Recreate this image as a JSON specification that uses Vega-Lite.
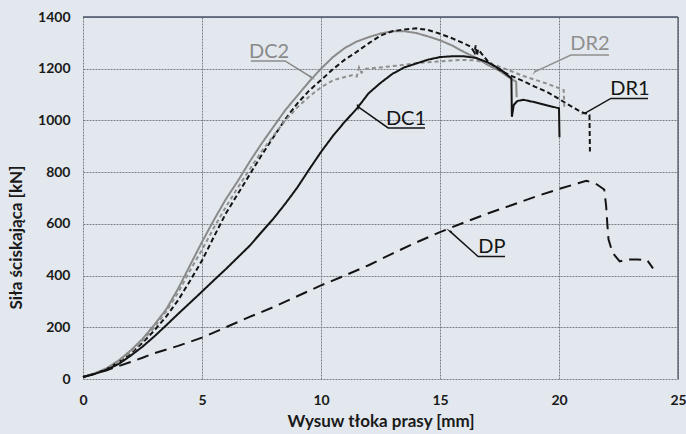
{
  "$schema": "https://vega.github.io/schema/vega-lite/v6.json",
  "width": 595,
  "height": 362,
  "autosize": {"type": "none"},
  "padding": {"left": 83, "top": 17, "right": 8, "bottom": 55},
  "background": "#e3e8ee",
  "config": {
    "view": {"stroke": null},
    "axis": {
      "labelFont": "Lato", "labelFontWeight": "bold", "labelFontSize": 14, "labelColor": "#1a1a1a",
      "titleFont": "Lato", "titleFontWeight": "bold", "titleFontSize": 17, "titleColor": "#1a1a1a",
      "domain": false, "ticks": false, "grid": true, "gridColor": "#7a7f87", "gridOpacity": 1, "gridDash": [2, 1], "gridWidth": 1,
      "labelFlush": false
    }
  },
  "datasets": {
    "curves": [
      {"s":"DC2","x":0,"y":8},{"s":"DC2","x":0.5,"y":22},{"s":"DC2","x":1,"y":42},{"s":"DC2","x":1.5,"y":72},{"s":"DC2","x":2,"y":110},{"s":"DC2","x":2.5,"y":155},{"s":"DC2","x":3,"y":210},{"s":"DC2","x":3.5,"y":270},{"s":"DC2","x":4,"y":350},{"s":"DC2","x":4.5,"y":440},{"s":"DC2","x":5,"y":530},{"s":"DC2","x":5.5,"y":615},{"s":"DC2","x":6,"y":695},{"s":"DC2","x":6.5,"y":765},{"s":"DC2","x":7,"y":840},{"s":"DC2","x":7.5,"y":910},{"s":"DC2","x":8,"y":975},{"s":"DC2","x":8.5,"y":1040},{"s":"DC2","x":9,"y":1095},{"s":"DC2","x":9.5,"y":1150},{"s":"DC2","x":10,"y":1200},{"s":"DC2","x":10.5,"y":1245},{"s":"DC2","x":11,"y":1280},{"s":"DC2","x":11.5,"y":1305},{"s":"DC2","x":12,"y":1322},{"s":"DC2","x":12.5,"y":1336},{"s":"DC2","x":13,"y":1345},{"s":"DC2","x":13.5,"y":1345},{"s":"DC2","x":14,"y":1338},{"s":"DC2","x":14.5,"y":1325},{"s":"DC2","x":15,"y":1310},{"s":"DC2","x":15.5,"y":1290},{"s":"DC2","x":16,"y":1265},{"s":"DC2","x":16.5,"y":1243},{"s":"DC2","x":17,"y":1215},{"s":"DC2","x":17.5,"y":1192},{"s":"DC2","x":18,"y":1160},{"s":"DC2","x":18.2,"y":1150},{"s":"DC2","x":18.22,"y":1090},
      {"s":"DR1","x":0,"y":8},{"s":"DR1","x":0.5,"y":20},{"s":"DR1","x":1,"y":38},{"s":"DR1","x":1.5,"y":65},{"s":"DR1","x":2,"y":98},{"s":"DR1","x":2.5,"y":140},{"s":"DR1","x":3,"y":188},{"s":"DR1","x":3.5,"y":242},{"s":"DR1","x":4,"y":305},{"s":"DR1","x":4.5,"y":380},{"s":"DR1","x":5,"y":458},{"s":"DR1","x":5.5,"y":550},{"s":"DR1","x":6,"y":640},{"s":"DR1","x":6.5,"y":715},{"s":"DR1","x":7,"y":790},{"s":"DR1","x":7.5,"y":865},{"s":"DR1","x":8,"y":935},{"s":"DR1","x":8.5,"y":1005},{"s":"DR1","x":9,"y":1065},{"s":"DR1","x":9.5,"y":1115},{"s":"DR1","x":10,"y":1156},{"s":"DR1","x":10.5,"y":1198},{"s":"DR1","x":11,"y":1235},{"s":"DR1","x":11.5,"y":1265},{"s":"DR1","x":12,"y":1298},{"s":"DR1","x":12.5,"y":1328},{"s":"DR1","x":13,"y":1345},{"s":"DR1","x":13.5,"y":1352},{"s":"DR1","x":14,"y":1356},{"s":"DR1","x":14.5,"y":1350},{"s":"DR1","x":15,"y":1335},{"s":"DR1","x":15.5,"y":1318},{"s":"DR1","x":16,"y":1298},{"s":"DR1","x":16.3,"y":1285},{"s":"DR1","x":16.45,"y":1262},{"s":"DR1","x":16.5,"y":1290},{"s":"DR1","x":16.55,"y":1250},{"s":"DR1","x":16.6,"y":1275},{"s":"DR1","x":17,"y":1230},{"s":"DR1","x":17.5,"y":1195},{"s":"DR1","x":18,"y":1172},{"s":"DR1","x":18.5,"y":1152},{"s":"DR1","x":19,"y":1130},{"s":"DR1","x":19.5,"y":1110},{"s":"DR1","x":20,"y":1083},{"s":"DR1","x":20.5,"y":1055},{"s":"DR1","x":20.9,"y":1034},{"s":"DR1","x":21.28,"y":1021},{"s":"DR1","x":21.3,"y":880},
      {"s":"DR2","x":0,"y":8},{"s":"DR2","x":0.5,"y":21},{"s":"DR2","x":1,"y":40},{"s":"DR2","x":1.5,"y":68},{"s":"DR2","x":2,"y":104},{"s":"DR2","x":2.5,"y":148},{"s":"DR2","x":3,"y":200},{"s":"DR2","x":3.5,"y":262},{"s":"DR2","x":4,"y":335},{"s":"DR2","x":4.5,"y":420},{"s":"DR2","x":5,"y":500},{"s":"DR2","x":5.5,"y":585},{"s":"DR2","x":6,"y":665},{"s":"DR2","x":6.5,"y":740},{"s":"DR2","x":7,"y":810},{"s":"DR2","x":7.5,"y":880},{"s":"DR2","x":8,"y":940},{"s":"DR2","x":8.5,"y":1000},{"s":"DR2","x":9,"y":1050},{"s":"DR2","x":9.5,"y":1092},{"s":"DR2","x":10,"y":1128},{"s":"DR2","x":10.5,"y":1155},{"s":"DR2","x":11,"y":1168},{"s":"DR2","x":11.3,"y":1175},{"s":"DR2","x":11.5,"y":1170},{"s":"DR2","x":11.6,"y":1205},{"s":"DR2","x":11.7,"y":1185},{"s":"DR2","x":11.9,"y":1200},{"s":"DR2","x":12.5,"y":1205},{"s":"DR2","x":13,"y":1210},{"s":"DR2","x":13.5,"y":1215},{"s":"DR2","x":14,"y":1222},{"s":"DR2","x":14.5,"y":1225},{"s":"DR2","x":15,"y":1228},{"s":"DR2","x":15.5,"y":1232},{"s":"DR2","x":16,"y":1234},{"s":"DR2","x":16.5,"y":1232},{"s":"DR2","x":17,"y":1222},{"s":"DR2","x":17.5,"y":1208},{"s":"DR2","x":18,"y":1190},{"s":"DR2","x":18.5,"y":1172},{"s":"DR2","x":19,"y":1157},{"s":"DR2","x":19.5,"y":1142},{"s":"DR2","x":20,"y":1125},{"s":"DR2","x":20.2,"y":1117},{"s":"DR2","x":20.22,"y":1050},
      {"s":"DC1","x":0,"y":8},{"s":"DC1","x":0.5,"y":20},{"s":"DC1","x":1,"y":36},{"s":"DC1","x":1.5,"y":58},{"s":"DC1","x":2,"y":90},{"s":"DC1","x":2.5,"y":125},{"s":"DC1","x":3,"y":165},{"s":"DC1","x":3.5,"y":208},{"s":"DC1","x":4,"y":252},{"s":"DC1","x":4.5,"y":295},{"s":"DC1","x":5,"y":338},{"s":"DC1","x":5.5,"y":382},{"s":"DC1","x":6,"y":425},{"s":"DC1","x":6.5,"y":470},{"s":"DC1","x":7,"y":515},{"s":"DC1","x":7.5,"y":568},{"s":"DC1","x":8,"y":620},{"s":"DC1","x":8.5,"y":678},{"s":"DC1","x":9,"y":740},{"s":"DC1","x":9.5,"y":810},{"s":"DC1","x":10,"y":878},{"s":"DC1","x":10.5,"y":940},{"s":"DC1","x":11,"y":995},{"s":"DC1","x":11.5,"y":1045},{"s":"DC1","x":12,"y":1105},{"s":"DC1","x":12.5,"y":1145},{"s":"DC1","x":13,"y":1180},{"s":"DC1","x":13.5,"y":1205},{"s":"DC1","x":14,"y":1220},{"s":"DC1","x":14.5,"y":1235},{"s":"DC1","x":15,"y":1245},{"s":"DC1","x":15.5,"y":1248},{"s":"DC1","x":16,"y":1248},{"s":"DC1","x":16.5,"y":1242},{"s":"DC1","x":17,"y":1225},{"s":"DC1","x":17.5,"y":1200},{"s":"DC1","x":18,"y":1163},{"s":"DC1","x":18.02,"y":1014},{"s":"DC1","x":18.1,"y":1060},{"s":"DC1","x":18.25,"y":1075},{"s":"DC1","x":18.5,"y":1080},{"s":"DC1","x":19,"y":1070},{"s":"DC1","x":19.5,"y":1058},{"s":"DC1","x":20,"y":1047},{"s":"DC1","x":20.02,"y":935},
      {"s":"DP","x":0,"y":8},{"s":"DP","x":0.5,"y":20},{"s":"DP","x":1,"y":34},{"s":"DP","x":1.5,"y":50},{"s":"DP","x":2,"y":66},{"s":"DP","x":2.5,"y":82},{"s":"DP","x":3,"y":100},{"s":"DP","x":4,"y":128},{"s":"DP","x":5,"y":160},{"s":"DP","x":6,"y":200},{"s":"DP","x":7,"y":240},{"s":"DP","x":8,"y":278},{"s":"DP","x":9,"y":320},{"s":"DP","x":10,"y":362},{"s":"DP","x":11,"y":400},{"s":"DP","x":12,"y":440},{"s":"DP","x":13,"y":485},{"s":"DP","x":14,"y":528},{"s":"DP","x":15,"y":568},{"s":"DP","x":16,"y":605},{"s":"DP","x":17,"y":640},{"s":"DP","x":18,"y":672},{"s":"DP","x":19,"y":705},{"s":"DP","x":20,"y":735},{"s":"DP","x":20.8,"y":757},{"s":"DP","x":21.15,"y":767},{"s":"DP","x":21.55,"y":755},{"s":"DP","x":21.9,"y":733},{"s":"DP","x":21.98,"y":670},{"s":"DP","x":22.03,"y":600},{"s":"DP","x":22.08,"y":540},{"s":"DP","x":22.25,"y":488},{"s":"DP","x":22.55,"y":455},{"s":"DP","x":22.9,"y":462},{"s":"DP","x":23.3,"y":462},{"s":"DP","x":23.7,"y":460},{"s":"DP","x":23.95,"y":428}
    ],
    "leaders": [
      {"label":"DC2","k":0,"x":9.61,"y":1166},{"label":"DC2","k":1,"x":8.49,"y":1230},{"label":"DC2","k":2,"x":7.05,"y":1230},
      {"label":"DC1","k":0,"x":11.55,"y":1053},{"label":"DC1","k":1,"x":12.82,"y":971},{"label":"DC1","k":2,"x":14.37,"y":971},
      {"label":"DR2","k":0,"x":18.98,"y":1188},{"label":"DR2","k":1,"x":20.5,"y":1253},{"label":"DR2","k":2,"x":22.1,"y":1253},
      {"label":"DR1","k":0,"x":21.08,"y":1027},{"label":"DR1","k":1,"x":22.18,"y":1085},{"label":"DR1","k":2,"x":23.74,"y":1085},
      {"label":"DP","k":0,"x":15.41,"y":572},{"label":"DP","k":1,"x":16.6,"y":474},{"label":"DP","k":2,"x":17.73,"y":474}
    ],
    "labels": [
      {"label":"DC2","x":7.82,"y":1264},
      {"label":"DC1","x":13.57,"y":1005},
      {"label":"DR2","x":21.3,"y":1295},
      {"label":"DR1","x":22.98,"y":1121},
      {"label":"DP","x":17.18,"y":510}
    ]
  },
  "layer": [
    {
      "data": {"name": "curves"},
      "mark": {"type": "line", "strokeWidth": 2},
      "encoding": {
        "x": {"field": "x", "type": "quantitative", "scale": {"domain": [0, 25], "nice": false},
              "axis": {"values": [0, 5, 10, 15, 20, 25], "title": "Wysuw tłoka prasy [mm]", "labelPadding": 14, "titlePadding": 6, "grid": true}},
        "y": {"field": "y", "type": "quantitative", "scale": {"domain": [0, 1400], "nice": false},
              "axis": {"values": [0, 200, 400, 600, 800, 1000, 1200, 1400], "format": "d", "title": "Siła ściskająca [kN]", "labelPadding": 13, "titleX": -58, "titleY": 220, "grid": true}},
        "color": {"field": "s", "type": "nominal", "legend": null,
                  "scale": {"domain": ["DC2", "DR2", "DR1", "DC1", "DP"], "range": ["#8a8a8a", "#8f8f8f", "#141414", "#141414", "#141414"]}},
        "strokeDash": {"field": "s", "type": "nominal", "legend": null,
                  "scale": {"domain": ["DC2", "DR2", "DR1", "DC1", "DP"], "range": [[1, 0], [4, 3], [5, 3], [1, 0], [12, 7]]}}
      }
    },
    {
      "data": {"values": [{}]},
      "mark": {"type": "rule", "color": "#4a5468", "strokeWidth": 1.5},
      "encoding": {"y": {"datum": 1400, "type": "quantitative"}}
    },
    {
      "data": {"values": [{}]},
      "mark": {"type": "rule", "color": "#4a5060", "strokeWidth": 1.2},
      "encoding": {"x": {"datum": 25, "type": "quantitative"}}
    },
    {
      "data": {"name": "leaders"},
      "mark": {"type": "line", "strokeWidth": 1.5},
      "encoding": {
        "x": {"field": "x", "type": "quantitative"},
        "y": {"field": "y", "type": "quantitative"},
        "detail": {"field": "label"},
        "order": {"field": "k"},
        "color": {"field": "label", "type": "nominal", "legend": null,
                  "scale": {"domain": ["DC2", "DR2", "DR1", "DC1", "DP"], "range": ["#7f7f7f", "#8a8a8a", "#141414", "#141414", "#141414"]}}
      }
    },
    {
      "data": {"name": "leaders"},
      "transform": [{"filter": "datum.k == 0"}],
      "mark": {"type": "point", "shape": "wedge", "filled": true, "size": 60, "opacity": 1},
      "encoding": {
        "x": {"field": "x", "type": "quantitative"},
        "y": {"field": "y", "type": "quantitative"},
        "angle": {"field": "label", "type": "nominal", "legend": null,
                  "scale": {"domain": ["DC2", "DC1", "DR2", "DR1", "DP"], "range": [122, 305, 245, 240, 312]}},
        "color": {"field": "label", "type": "nominal", "legend": null,
                  "scale": {"domain": ["DC2", "DR2", "DR1", "DC1", "DP"], "range": ["#7f7f7f", "#8a8a8a", "#141414", "#141414", "#141414"]}}
      }
    },
    {
      "data": {"name": "labels"},
      "mark": {"type": "text", "font": "Lato", "fontSize": 20, "align": "center", "baseline": "middle"},
      "encoding": {
        "x": {"field": "x", "type": "quantitative"},
        "y": {"field": "y", "type": "quantitative"},
        "text": {"field": "label"},
        "color": {"field": "label", "type": "nominal", "legend": null,
                  "scale": {"domain": ["DC2", "DR2", "DR1", "DC1", "DP"], "range": ["#7f7f7f", "#8a8a8a", "#141414", "#141414", "#141414"]}}
      }
    }
  ]
}
